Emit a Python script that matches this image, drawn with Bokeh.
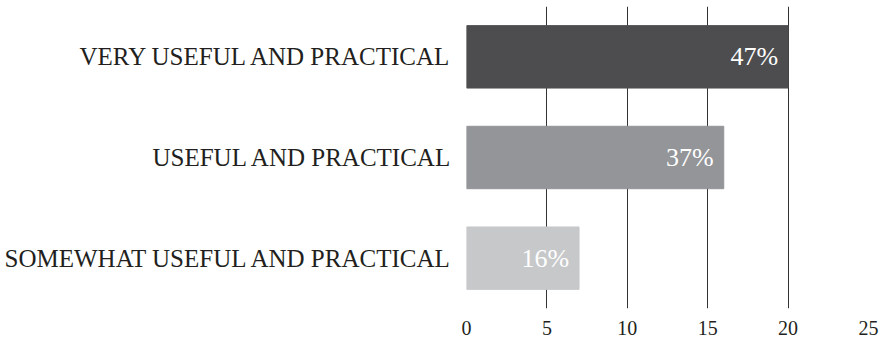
from bokeh.plotting import figure
from bokeh.models import ColumnDataSource, FixedTicker
from bokeh.embed import file_html
from bokeh.resources import INLINE
from bokeh.core.properties import value

categories = ["SOMEWHAT USEFUL AND PRACTICAL", "USEFUL AND PRACTICAL", "VERY USEFUL AND PRACTICAL"]
values = [7, 16, 20]
labels = ["16%", "37%", "47%"]
colors = ["#c7c8ca", "#939598", "#4d4d4f"]
ticks = [0, 5, 10, 15, 20, 25]

src = ColumnDataSource(dict(cat=categories, val=values, lab=labels, col=colors))

p = figure(frame_width=402, frame_height=302, y_range=categories, x_range=(0, 25),
           output_backend="svg", toolbar_location=None,
           min_border_left=466, min_border_right=12, min_border_top=6, min_border_bottom=33)
p.outline_line_color = None
p.background_fill_color = "white"

p.hbar(y="cat", right="val", left=0, height=0.62, color="col", source=src)
p.text(x="val", y="cat", text="lab", source=src, x_offset=-10, text_align="right",
       text_baseline="middle", text_color="white", text_font=value("Liberation Serif"),
       text_font_size="26px")

p.xaxis.ticker = FixedTicker(ticks=ticks)
p.xaxis.axis_line_color = None
p.xaxis.major_tick_line_color = None
p.xaxis.minor_tick_line_color = None
p.xaxis.major_label_text_font = "Liberation Serif"
p.xaxis.major_label_text_font_size = "20px"
p.xaxis.major_label_text_color = "#231f20"
p.xaxis.major_label_standoff = 6

p.yaxis.axis_line_color = None
p.yaxis.major_tick_line_color = None
p.yaxis.minor_tick_line_color = None
p.yaxis.major_label_text_font = "Liberation Serif"
p.yaxis.major_label_text_font_size = "25px"
p.yaxis.major_label_text_color = "#231f20"
p.yaxis.major_label_standoff = 8

p.xgrid.grid_line_color = "#333333"
p.xgrid.grid_line_width = 1
p.ygrid.grid_line_color = None
p.y_range.range_padding = 0

open("out.html", "w").write(file_html(p, INLINE))
